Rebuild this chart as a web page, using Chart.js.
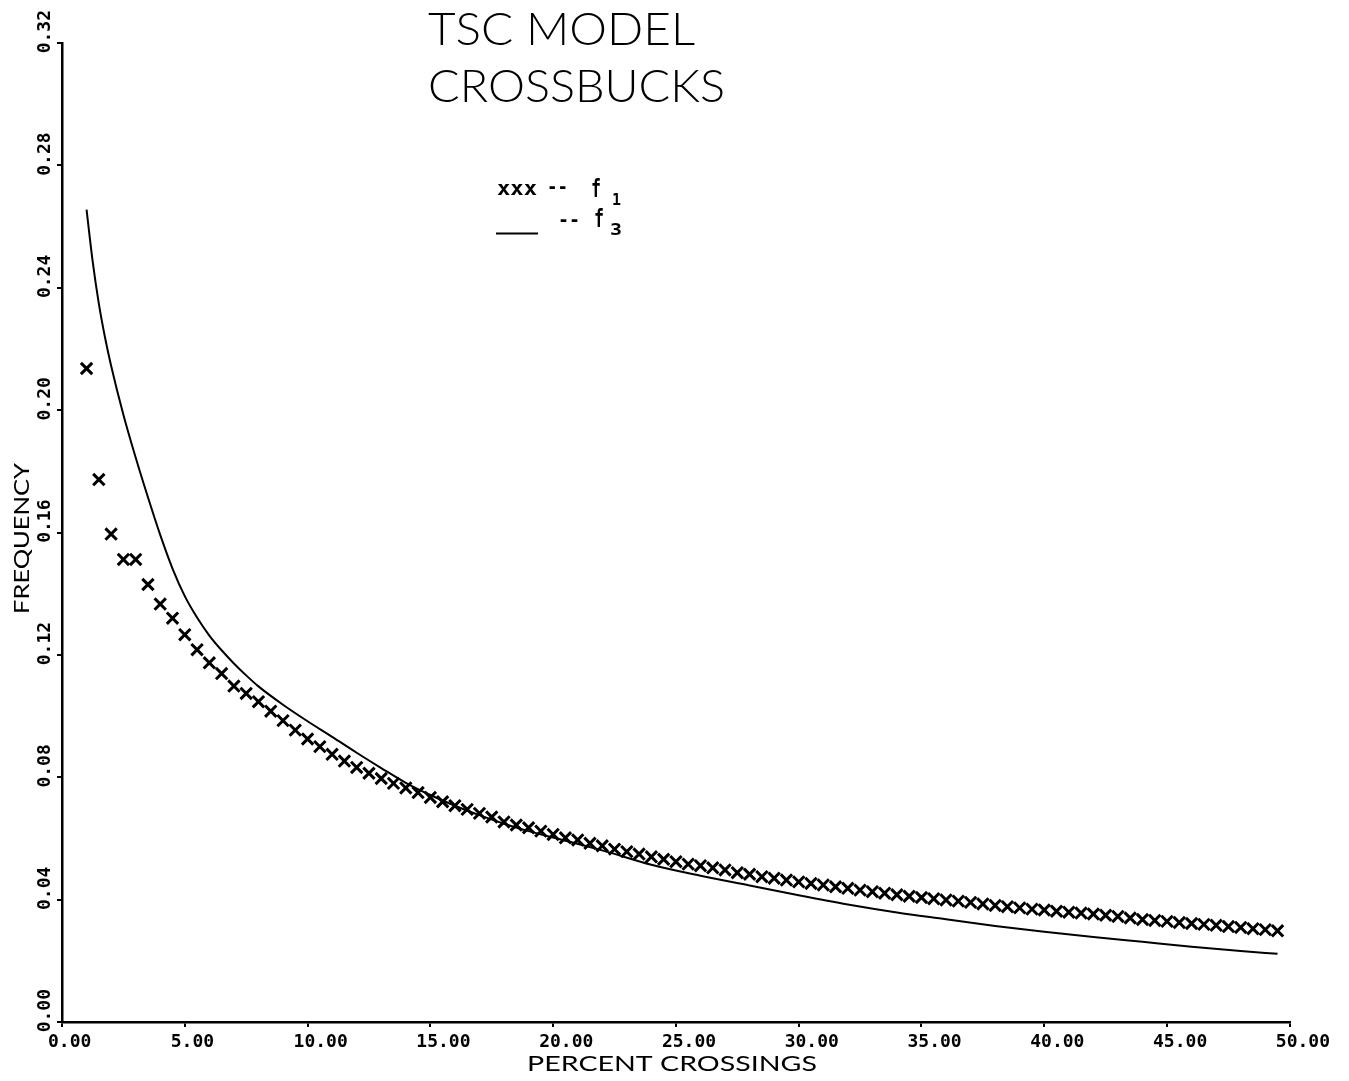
<!DOCTYPE html>
<html>
<head>
<meta charset="utf-8">
<script src="https://cdn.jsdelivr.net/npm/chart.js@4.4.1/dist/chart.umd.min.js"></script>
<style>
html,body{margin:0;padding:0;background:#fff;}
#wrap{width:1349px;height:1081px;position:relative;}
</style>
</head>
<body>
<div id="wrap"><canvas id="c"></canvas></div>
<script>
// ---- data ----
const crossX = [1,1.5,2,2.5,3,3.5,4,4.5,5,5.5,6,6.5,7,7.5,8,8.5,9,9.5,10,10.5,11,11.5,12,12.5,13,13.5,14,14.5,15,15.5,16,16.5,17,17.5,18,18.5,19,19.5,20,20.5,21,21.5,22,22.5,23,23.5,24,24.5,25,25.5,26,26.5,27,27.5,28,28.5,29,29.5,30,30.5,31,31.5,32,32.5,33,33.5,34,34.5,35,35.5,36,36.5,37,37.5,38,38.5,39,39.5,40,40.5,41,41.5,42,42.5,43,43.5,44,44.5,45,45.5,46,46.5,47,47.5,48,48.5,49,49.5];
const crossY = [
0.2136,0.1773,0.1595,0.1512,0.1512,0.1430,0.1366,0.1320,0.1266,0.1217,
0.1174,0.1139,0.1098,0.1074,0.1047,0.1016,0.0985,0.0954,0.0925,0.0900,
0.0875,0.0853,0.0832,0.0813,0.0796,0.0780,0.0765,0.0750,0.0734,0.0720,
0.0707,0.0695,0.0682,0.0670,0.0654,0.0644,0.0635,0.0624,0.0613,0.0602,
0.0595,0.0584,0.0576,0.0565,0.0557,0.0549,0.0540,0.0532,0.0524,0.0516,
0.0511,0.0504,0.0497,0.0488,0.0483,0.0475,0.0470,0.0464,0.0458,0.0453,
0.0448,0.0442,0.0437,0.0431,0.0426,0.0421,0.0416,0.0411,0.0407,0.0403,
0.0399,0.0395,0.0391,0.0386,0.0381,0.0377,0.0373,0.0369,0.0366,0.0362,
0.0359,0.0356,0.0353,0.0349,0.0345,0.0340,0.0335,0.0332,0.0329,0.0325,
0.0322,0.0319,0.0316,0.0312,0.0309,0.0305,0.0302,0.0298];
const lineX = [1,1.25,1.5,1.75,2,2.5,3,3.5,4,4.5,5,5.5,6,6.5,7,7.5,8,9,10,11,12,13,14,15,16,17,18,19,20,22,24,26,28,30,32,34,36,38,40,42,44,46,48,49.5];
const lineY = [0.2655,0.2485,0.2348,0.2238,0.2145,0.1985,0.1845,0.1715,0.1592,0.1482,0.1392,0.1322,0.1263,0.1215,0.1172,0.1133,0.1097,0.1037,0.0983,0.0932,0.0880,0.0830,0.0782,0.0742,0.0707,0.0676,0.0648,0.0624,0.0603,0.0561,0.0514,0.0478,0.0446,0.0414,0.0384,0.0358,0.0336,0.0314,0.0295,0.0278,0.0262,0.0246,0.0232,0.0223];
const xTickValues = [0,5,10,15,20,25,30,35,40,45,50];
const yTickValues = [0,0.04,0.08,0.12,0.16,0.20,0.24,0.28,0.32];
const titleLines = ['TSC MODEL','CROSSBUCKS'];
const xAxisTitle = 'PERCENT CROSSINGS';
const yAxisTitle = 'FREQUENCY';
const seriesNames = ['f1','f3'];

// ---- helpers ----
const THIN = '"DejaVu Sans ExtraLight", Lato, Roboto, "DejaVu Sans", sans-serif';
function fitText(ctx, text, x, y, w, font, rot){
  ctx.save();
  ctx.font = font;
  ctx.fillStyle = '#000';
  ctx.textAlign = 'left';
  ctx.textBaseline = 'alphabetic';
  const m = ctx.measureText(text).width;
  ctx.translate(x, y);
  if (rot) ctx.rotate(rot);
  ctx.scale(w / m, 1);
  ctx.fillText(text, 0, 0);
  ctx.restore();
}

const textPlugin = {
  id: 'texts',
  beforeDraw(chart){
    const ctx = chart.ctx;
    ctx.save();
    ctx.fillStyle = '#fff';
    ctx.fillRect(0, 0, chart.width, chart.height);
    ctx.restore();
  },
  afterDraw(chart){
    const ctx = chart.ctx;
    // title
    fitText(ctx, titleLines[0], 428, 45, 267, '300 46px ' + THIN);
    fitText(ctx, titleLines[1], 428, 102, 297, '300 46px ' + THIN);
    // legend
    const LEG = '"DejaVu Sans Mono", monospace';
    fitText(ctx, 'xxx', 497, 195, 40, 'bold 20px ' + LEG);
    fitText(ctx, '--', 547, 193, 21, 'bold 20px ' + LEG);
    fitText(ctx, 'f', 591, 197, 10, 'bold 24px ' + LEG);
    fitText(ctx, '1', 612, 205, 9, 'bold 16px ' + LEG);
    ctx.save();
    ctx.strokeStyle = '#000'; ctx.lineWidth = 2;
    ctx.beginPath(); ctx.moveTo(496, 233.5); ctx.lineTo(538, 233.5); ctx.stroke();
    ctx.restore();
    fitText(ctx, '--', 558, 226, 22, 'bold 20px ' + LEG);
    fitText(ctx, 'f', 594, 227, 10, 'bold 24px ' + LEG);
    fitText(ctx, '3', 610, 235, 12, 'bold 16px ' + LEG);
    // axis titles
    fitText(ctx, xAxisTitle, 527, 1071, 290, '400 22px ' + THIN);
    fitText(ctx, yAxisTitle, 29, 614, 151, '400 22px ' + THIN, -Math.PI/2);
  }
};

const ctx = document.getElementById('c').getContext('2d');
new Chart(ctx, {
  type: 'line',
  data: {
    datasets: [
      {
        label: seriesNames[0],
        data: crossX.map((x, i) => ({x: x, y: crossY[i]})),
        showLine: false,
        pointStyle: 'crossRot',
        pointRadius: 8,
        pointBorderWidth: 3,
        borderColor: '#000',
        backgroundColor: '#000'
      },
      {
        label: seriesNames[1],
        data: lineX.map((x, i) => ({x: x, y: lineY[i]})),
        borderColor: '#000',
        borderWidth: 2,
        pointRadius: 0,
        cubicInterpolationMode: 'monotone',
        fill: false
      }
    ]
  },
  options: {
    responsive: true,
    maintainAspectRatio: false,
    animation: false,
    events: [],
    layout: { padding: { left: 0, right: 57, top: 43, bottom: 0 } },
    plugins: { legend: { display: false }, tooltip: { enabled: false }, title: { display: false } },
    scales: {
      x: {
        type: 'linear', position: 'bottom', min: 0, max: 50,
        border: { display: true, color: '#000', width: 2.5 },
        grid: { display: true, drawOnChartArea: false, drawTicks: true, tickLength: 5, color: '#000', lineWidth: 2 },
        afterBuildTicks: s => { s.ticks = xTickValues.map(v => ({ value: v })); },
        ticks: {
          autoSkip: false, maxRotation: 0, minRotation: 0,
          align: 'start', labelOffset: -14, padding: 5,
          color: '#000',
          font: { family: '"DejaVu Sans Mono"', size: 18, weight: 'bold' },
          callback: v => Number(v).toFixed(2)
        },
        afterFit: s => { s.height = 59; }
      },
      y: {
        type: 'linear', position: 'left', min: 0, max: 0.32,
        border: { display: true, color: '#000', width: 2.5 },
        grid: { display: true, drawOnChartArea: false, drawTicks: true, tickLength: 5, color: '#000', lineWidth: 2 },
        afterBuildTicks: s => { s.ticks = yTickValues.map(v => ({ value: v })); },
        ticks: {
          autoSkip: false, minRotation: 90, maxRotation: 90,
          labelOffset: -33, padding: 12,
          color: '#000',
          font: { family: '"DejaVu Sans Mono"', size: 18, weight: 'bold' },
          callback: v => Number(v).toFixed(2)
        },
        afterFit: s => { s.width = 62; }
      }
    }
  },
  plugins: [textPlugin]
});
</script>
</body>
</html>
